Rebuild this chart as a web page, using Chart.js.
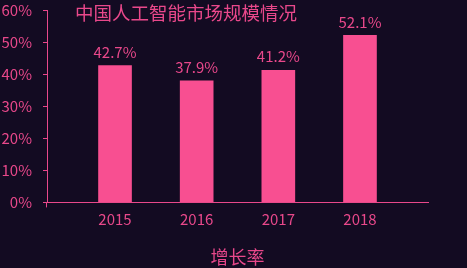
<!DOCTYPE html>
<html>
<head>
<meta charset="utf-8">
<script src="https://cdn.jsdelivr.net/npm/chart.js@4/dist/chart.umd.min.js"></script>
<style>
  html, body { margin: 0; padding: 0; background: #130b22; }
  #wrap { width: 467px; height: 268px; }
</style>
</head>
<body>
<div id="wrap"><canvas id="myChart"></canvas></div>
<script>
var years = ['2015', '2016', '2017', '2018'];
var growth = [42.7, 37.9, 41.2, 52.1];
var yTicks = [0, 10, 20, 30, 40, 50, 60];
var chartTitle = '中国人工智能市场规模情况';
var axisTitle = '增长率';

var pink = '#e9488b';
var barPink = '#f84f91';
var font = "'Noto Sans CJK SC', 'Noto Sans', sans-serif";

// title + value labels drawn by hand
var overlay = {
    id: 'overlay',
    afterDatasetsDraw: function(chart) {
        var ctx = chart.ctx;
        var area = chart.chartArea;
        ctx.save();
        // little start tick under the x axis
        ctx.strokeStyle = pink;
        ctx.lineWidth = 1;
        ctx.beginPath();
        ctx.moveTo(area.left - 0.5, area.bottom);
        ctx.lineTo(area.left - 0.5, area.bottom + 5);
        ctx.stroke();

        ctx.fillStyle = pink;
        ctx.font = '18.5px ' + font;
        ctx.textAlign = 'left';
        ctx.textBaseline = 'middle';
        ctx.fillText(chartTitle, 75, 13);

        ctx.font = '15px ' + font;
        ctx.textAlign = 'center';
        ctx.textBaseline = 'bottom';
        var meta = chart.getDatasetMeta(0);
        meta.data.forEach(function(bar, i) {
            ctx.fillText(growth[i].toFixed(1) + '%', bar.x, bar.y - 6);
        });
        ctx.restore();
    }
};

const ctx = document.getElementById('myChart').getContext('2d');

const myChart = new Chart(ctx, {
    type: 'bar',
    data: {
        datasets: [{
            data: years.map(function(y, i) { return { x: i, y: growth[i] }; }),
            backgroundColor: barPink,
            barThickness: 33
        }]
    },
    options: {
        responsive: true,
        maintainAspectRatio: false,
        animation: false,
        events: [],
        layout: { padding: { top: 10, right: 39, left: 0, bottom: 0 } },
        plugins: {
            legend: { display: false },
            tooltip: { enabled: false }
        },
        scales: {
            x: {
                type: 'linear',
                offset: false,
                min: -0.833,
                max: 3.833,
                afterBuildTicks: function(scale) {
                    scale.ticks = years.map(function(y, i) { return { value: i }; });
                },
                ticks: {
                    color: pink,
                    font: { size: 15, family: font },
                    padding: 0,
                    maxRotation: 0,
                    callback: function(v) { return years[v]; }
                },
                grid: { display: false, offset: false },
                border: { color: pink, width: 1 },
                title: {
                    display: true,
                    text: axisTitle,
                    color: pink,
                    font: { size: 18, family: font },
                    padding: { top: 18, bottom: 0 }
                }
            },
            y: {
                min: 0,
                max: 60,
                afterBuildTicks: function(scale) {
                    scale.ticks = yTicks.map(function(v) { return { value: v }; });
                },
                afterFit: function(scale) {
                    scale.width = 47;
                    scale.paddingTop = 0;
                    scale.paddingBottom = 0;
                },
                ticks: {
                    color: pink,
                    font: { size: 15, family: font },
                    padding: 11,
                    callback: function(v) { return v + '%'; }
                },
                grid: {
                    drawOnChartArea: false,
                    drawTicks: true,
                    tickLength: 4,
                    color: pink
                },
                border: { color: pink, width: 1 }
            }
        }
    },
    plugins: [overlay]
});
</script>
</body>
</html>
